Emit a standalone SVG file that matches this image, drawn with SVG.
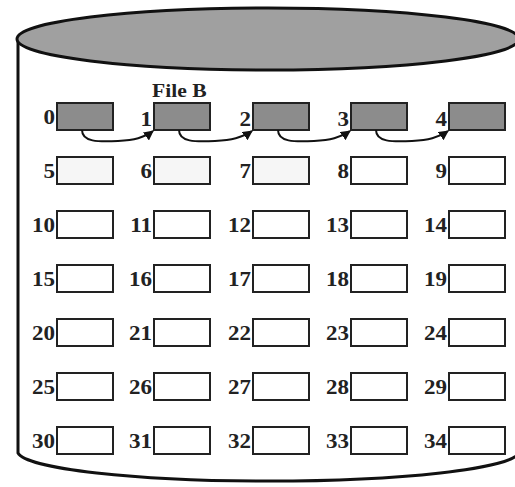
<svg xmlns="http://www.w3.org/2000/svg" width="515" height="487" viewBox="0 0 515 487">
<style>
.disk{stroke:#111;stroke-width:3;}
.box{stroke:#222;stroke-width:2;fill:#fff;}
.sel{fill:#8c8c8c;}
.light{fill:#f6f6f6;}
.lbl{font-family:"Liberation Serif","Times New Roman",serif;font-weight:bold;font-size:20px;fill:#222;text-anchor:end;}
.conn{fill:none;stroke:#111;stroke-width:2;}
</style>
<defs>
<marker id="ah" viewBox="0 0 10 10" refX="9" refY="5" markerWidth="5" markerHeight="5" orient="auto" markerUnits="strokeWidth">
<path d="M0,0 L10,5 L0,10 z" fill="#111"/>
</marker>
</defs>
<rect width="515" height="487" fill="#fff"/>
<g id="disk">
<path class="disk" fill="none" d="M18,39 L18,453 A251,30 0 0 0 519,453"/>
<ellipse class="disk" cx="268" cy="39" rx="251" ry="31" fill="#a0a0a0"/>
</g>
<text class="lbl" transform="translate(152,97) scale(1.2,1)" text-anchor="start" style="text-anchor:start;font-size:18px">File B</text>
<g id="blocks">
<g id="b0"><rect class="box sel" x="57" y="103" width="56" height="27"/><text class="lbl" transform="translate(55,124) scale(1.15,1)">0</text></g>
<g id="b1"><rect class="box sel" x="154" y="103" width="56" height="27"/><text class="lbl" transform="translate(152,126) scale(1.15,1)">1</text></g>
<g id="b2"><rect class="box sel" x="253" y="103" width="56" height="27"/><text class="lbl" transform="translate(251,126) scale(1.15,1)">2</text></g>
<g id="b3"><rect class="box sel" x="351" y="103" width="56" height="27"/><text class="lbl" transform="translate(349,126) scale(1.15,1)">3</text></g>
<g id="b4"><rect class="box sel" x="449" y="103" width="56" height="27"/><text class="lbl" transform="translate(447,126) scale(1.15,1)">4</text></g>

<g id="b5"><rect class="box light" x="57" y="157" width="56" height="27"/><text class="lbl" transform="translate(55,178) scale(1.15,1)">5</text></g>
<g id="b6"><rect class="box light" x="154" y="157" width="56" height="27"/><text class="lbl" transform="translate(152,178) scale(1.15,1)">6</text></g>
<g id="b7"><rect class="box light" x="253" y="157" width="56" height="27"/><text class="lbl" transform="translate(251,178) scale(1.15,1)">7</text></g>
<g id="b8"><rect class="box" x="351" y="157" width="56" height="27"/><text class="lbl" transform="translate(349,178) scale(1.15,1)">8</text></g>
<g id="b9"><rect class="box" x="449" y="157" width="56" height="27"/><text class="lbl" transform="translate(447,178) scale(1.15,1)">9</text></g>

<g id="b10"><rect class="box" x="57" y="211" width="56" height="27"/><text class="lbl" transform="translate(55,232) scale(1.15,1)">10</text></g>
<g id="b11"><rect class="box" x="154" y="211" width="56" height="27"/><text class="lbl" transform="translate(152,232) scale(1.15,1)">11</text></g>
<g id="b12"><rect class="box" x="253" y="211" width="56" height="27"/><text class="lbl" transform="translate(251,232) scale(1.15,1)">12</text></g>
<g id="b13"><rect class="box" x="351" y="211" width="56" height="27"/><text class="lbl" transform="translate(349,232) scale(1.15,1)">13</text></g>
<g id="b14"><rect class="box" x="449" y="211" width="56" height="27"/><text class="lbl" transform="translate(447,232) scale(1.15,1)">14</text></g>

<g id="b15"><rect class="box" x="57" y="265" width="56" height="27"/><text class="lbl" transform="translate(55,286) scale(1.15,1)">15</text></g>
<g id="b16"><rect class="box" x="154" y="265" width="56" height="27"/><text class="lbl" transform="translate(152,286) scale(1.15,1)">16</text></g>
<g id="b17"><rect class="box" x="253" y="265" width="56" height="27"/><text class="lbl" transform="translate(251,286) scale(1.15,1)">17</text></g>
<g id="b18"><rect class="box" x="351" y="265" width="56" height="27"/><text class="lbl" transform="translate(349,286) scale(1.15,1)">18</text></g>
<g id="b19"><rect class="box" x="449" y="265" width="56" height="27"/><text class="lbl" transform="translate(447,286) scale(1.15,1)">19</text></g>

<g id="b20"><rect class="box" x="57" y="319" width="56" height="27"/><text class="lbl" transform="translate(55,340) scale(1.15,1)">20</text></g>
<g id="b21"><rect class="box" x="154" y="319" width="56" height="27"/><text class="lbl" transform="translate(152,340) scale(1.15,1)">21</text></g>
<g id="b22"><rect class="box" x="253" y="319" width="56" height="27"/><text class="lbl" transform="translate(251,340) scale(1.15,1)">22</text></g>
<g id="b23"><rect class="box" x="351" y="319" width="56" height="27"/><text class="lbl" transform="translate(349,340) scale(1.15,1)">23</text></g>
<g id="b24"><rect class="box" x="449" y="319" width="56" height="27"/><text class="lbl" transform="translate(447,340) scale(1.15,1)">24</text></g>

<g id="b25"><rect class="box" x="57" y="373" width="56" height="27"/><text class="lbl" transform="translate(55,394) scale(1.15,1)">25</text></g>
<g id="b26"><rect class="box" x="154" y="373" width="56" height="27"/><text class="lbl" transform="translate(152,394) scale(1.15,1)">26</text></g>
<g id="b27"><rect class="box" x="253" y="373" width="56" height="27"/><text class="lbl" transform="translate(251,394) scale(1.15,1)">27</text></g>
<g id="b28"><rect class="box" x="351" y="373" width="56" height="27"/><text class="lbl" transform="translate(349,394) scale(1.15,1)">28</text></g>
<g id="b29"><rect class="box" x="449" y="373" width="56" height="27"/><text class="lbl" transform="translate(447,394) scale(1.15,1)">29</text></g>

<g id="b30"><rect class="box" x="57" y="427" width="56" height="27"/><text class="lbl" transform="translate(55,448) scale(1.15,1)">30</text></g>
<g id="b31"><rect class="box" x="154" y="427" width="56" height="27"/><text class="lbl" transform="translate(152,448) scale(1.15,1)">31</text></g>
<g id="b32"><rect class="box" x="253" y="427" width="56" height="27"/><text class="lbl" transform="translate(251,448) scale(1.15,1)">32</text></g>
<g id="b33"><rect class="box" x="351" y="427" width="56" height="27"/><text class="lbl" transform="translate(349,448) scale(1.15,1)">33</text></g>
<g id="b34"><rect class="box" x="449" y="427" width="56" height="27"/><text class="lbl" transform="translate(447,448) scale(1.15,1)">34</text></g>
</g>
<g id="connectors">
<path class="conn" marker-end="url(#ah)" d="M82,130 C82,142 98,142 118,141 C134,140 144,138 153,131"/>
<path class="conn" marker-end="url(#ah)" d="M179,130 C179,142 195,142 215,141 C231,140 242,138 252,131"/>
<path class="conn" marker-end="url(#ah)" d="M278,130 C278,142 294,142 314,141 C330,140 340,138 350,131"/>
<path class="conn" marker-end="url(#ah)" d="M376,130 C376,142 392,142 412,141 C428,140 438,138 448,131"/>
</g>
</svg>
